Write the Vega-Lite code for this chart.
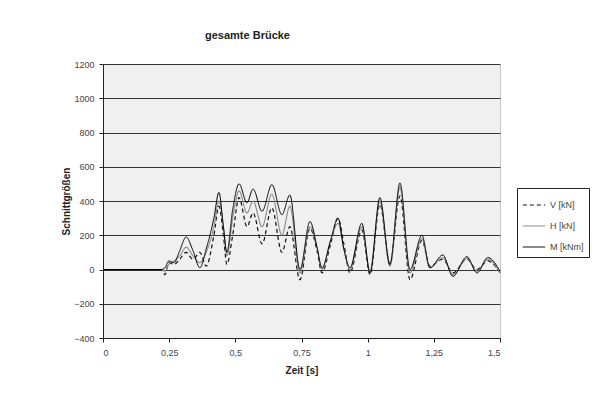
{
  "$schema": "https://vega.github.io/schema/vega-lite/v6.json",
  "autosize": "none",
  "width": 397,
  "height": 274,
  "padding": {"left": 103, "top": 64, "right": 114, "bottom": 69},
  "background": "white",
  "title": {"text": "gesamte Brücke", "fontSize": 11, "font": "Liberation Sans", "fontWeight": "bold", "color": "#222", "anchor": "middle", "dx": -54, "offset": 19},
  "config": {
    "view": {"fill": "#f0f0f0", "stroke": "#c8c8c8", "strokeWidth": 1},
    "font": "Liberation Sans"
  },
  "data": {"values": [
    {"t": 0, "V": 0, "H": 0, "M": 0},
    {"t": 0.219, "V": 0, "H": 0, "M": 0},
    {"t": 0.234, "V": -30, "H": -10, "M": 10},
    {"t": 0.249, "V": 40, "H": 30, "M": 50},
    {"t": 0.268, "V": 30, "H": 50, "M": 40},
    {"t": 0.29, "V": 60, "H": 80, "M": 110},
    {"t": 0.314, "V": 100, "H": 130, "M": 190},
    {"t": 0.34, "V": 60, "H": 80, "M": 110},
    {"t": 0.366, "V": 100, "H": 40, "M": 10},
    {"t": 0.39, "V": 20, "H": 100, "M": 120},
    {"t": 0.419, "V": 200, "H": 250, "M": 300},
    {"t": 0.438, "V": 370, "H": 400, "M": 450},
    {"t": 0.455, "V": 200, "H": 250, "M": 250},
    {"t": 0.468, "V": 30, "H": 80, "M": 100},
    {"t": 0.49, "V": 200, "H": 300, "M": 350},
    {"t": 0.514, "V": 420, "H": 460, "M": 500},
    {"t": 0.544, "V": 250, "H": 330, "M": 390},
    {"t": 0.567, "V": 330, "H": 400, "M": 470},
    {"t": 0.601, "V": 150, "H": 250, "M": 340},
    {"t": 0.638, "V": 360, "H": 440, "M": 495},
    {"t": 0.676, "V": 100, "H": 200, "M": 320},
    {"t": 0.706, "V": 250, "H": 370, "M": 435},
    {"t": 0.744, "V": -60, "H": -20, "M": 0},
    {"t": 0.782, "V": 240, "H": 250, "M": 280},
    {"t": 0.81, "V": 100, "H": 120, "M": 120},
    {"t": 0.827, "V": -20, "H": 0, "M": 10},
    {"t": 0.86, "V": 150, "H": 170, "M": 170},
    {"t": 0.888, "V": 300, "H": 270, "M": 300},
    {"t": 0.91, "V": 150, "H": 120, "M": 120},
    {"t": 0.933, "V": -20, "H": 0, "M": 10},
    {"t": 0.978, "V": 230, "H": 250, "M": 270},
    {"t": 1.009, "V": -30, "H": -10, "M": -20},
    {"t": 1.046, "V": 380, "H": 400, "M": 420},
    {"t": 1.084, "V": 30, "H": 20, "M": 30},
    {"t": 1.122, "V": 430, "H": 480, "M": 505},
    {"t": 1.16, "V": -60, "H": -20, "M": 0},
    {"t": 1.205, "V": 170, "H": 180, "M": 200},
    {"t": 1.235, "V": 20, "H": 10, "M": 10},
    {"t": 1.284, "V": 60, "H": 70, "M": 85},
    {"t": 1.322, "V": -20, "H": -30, "M": -40},
    {"t": 1.375, "V": 60, "H": 65, "M": 75},
    {"t": 1.413, "V": 0, "H": -10, "M": -20},
    {"t": 1.454, "V": 50, "H": 60, "M": 70},
    {"t": 1.5, "V": -20, "H": -20, "M": -10}
  ]},
  "transform": [
    {"fold": ["V", "H", "M"], "as": ["key", "val"]},
    {"lookup": "key", "from": {"data": {"values": [
      {"key": "V", "s": "V [kN]"},
      {"key": "H", "s": "H [kN]"},
      {"key": "M", "s": "M [kNm]"}
    ]}, "key": "key", "fields": ["s"]}}
  ],
  "mark": {"type": "line", "interpolate": "monotone"},
  "encoding": {
    "x": {"field": "t", "type": "quantitative",
      "scale": {"domain": [0, 1.5], "nice": false, "zero": false},
      "axis": {"title": "Zeit [s]", "values": [0, 0.25, 0.5, 0.75, 1, 1.25, 1.5],
        "labelExpr": "replace(toString(datum.value), '.', ',')",
        "grid": false, "domainColor": "#222", "tickColor": "#222", "tickSize": 4,
        "labelFontSize": 9, "labelColor": "#444", "labelPadding": 6,
        "titleFontSize": 10, "titleFontWeight": "bold", "titleColor": "#222", "titlePadding": 8}},
    "y": {"field": "val", "type": "quantitative",
      "scale": {"domain": [-400, 1200], "nice": false},
      "axis": {"title": "Schnittgrößen", "values": [-400, -200, 0, 200, 400, 600, 800, 1000, 1200],
        "format": "d",
        "grid": true, "gridColor": "#333", "gridWidth": 1.2,
        "domainColor": "#222", "tickColor": "#222", "tickSize": 4,
        "labelFontSize": 9, "labelColor": "#444", "labelPadding": 5,
        "titleFontSize": 10, "titleFontWeight": "bold", "titleColor": "#222", "titlePadding": 2}},
    "color": {"field": "s", "type": "nominal",
      "scale": {"domain": ["V [kN]", "H [kN]", "M [kNm]"], "range": ["#111", "#8a8a8a", "#000"]},
      "legend": {"title": null, "orient": "none", "legendX": 414, "legendY": 124,
        "strokeColor": "#222", "fillColor": "white", "padding": 5, "rowPadding": 4,
        "symbolType": "stroke", "symbolSize": 500, "labelFontSize": 9, "labelColor": "#444"}},
    "strokeDash": {"field": "s", "type": "nominal",
      "scale": {"domain": ["V [kN]", "H [kN]", "M [kNm]"], "range": [[4, 3], [1, 0], [1, 0]]}},
    "strokeWidth": {"field": "s", "type": "ordinal",
      "scale": {"domain": ["V [kN]", "H [kN]", "M [kNm]"], "range": [1.2, 1, 1.8]}},
    "order": {"field": "t", "type": "quantitative"}
  }
}
